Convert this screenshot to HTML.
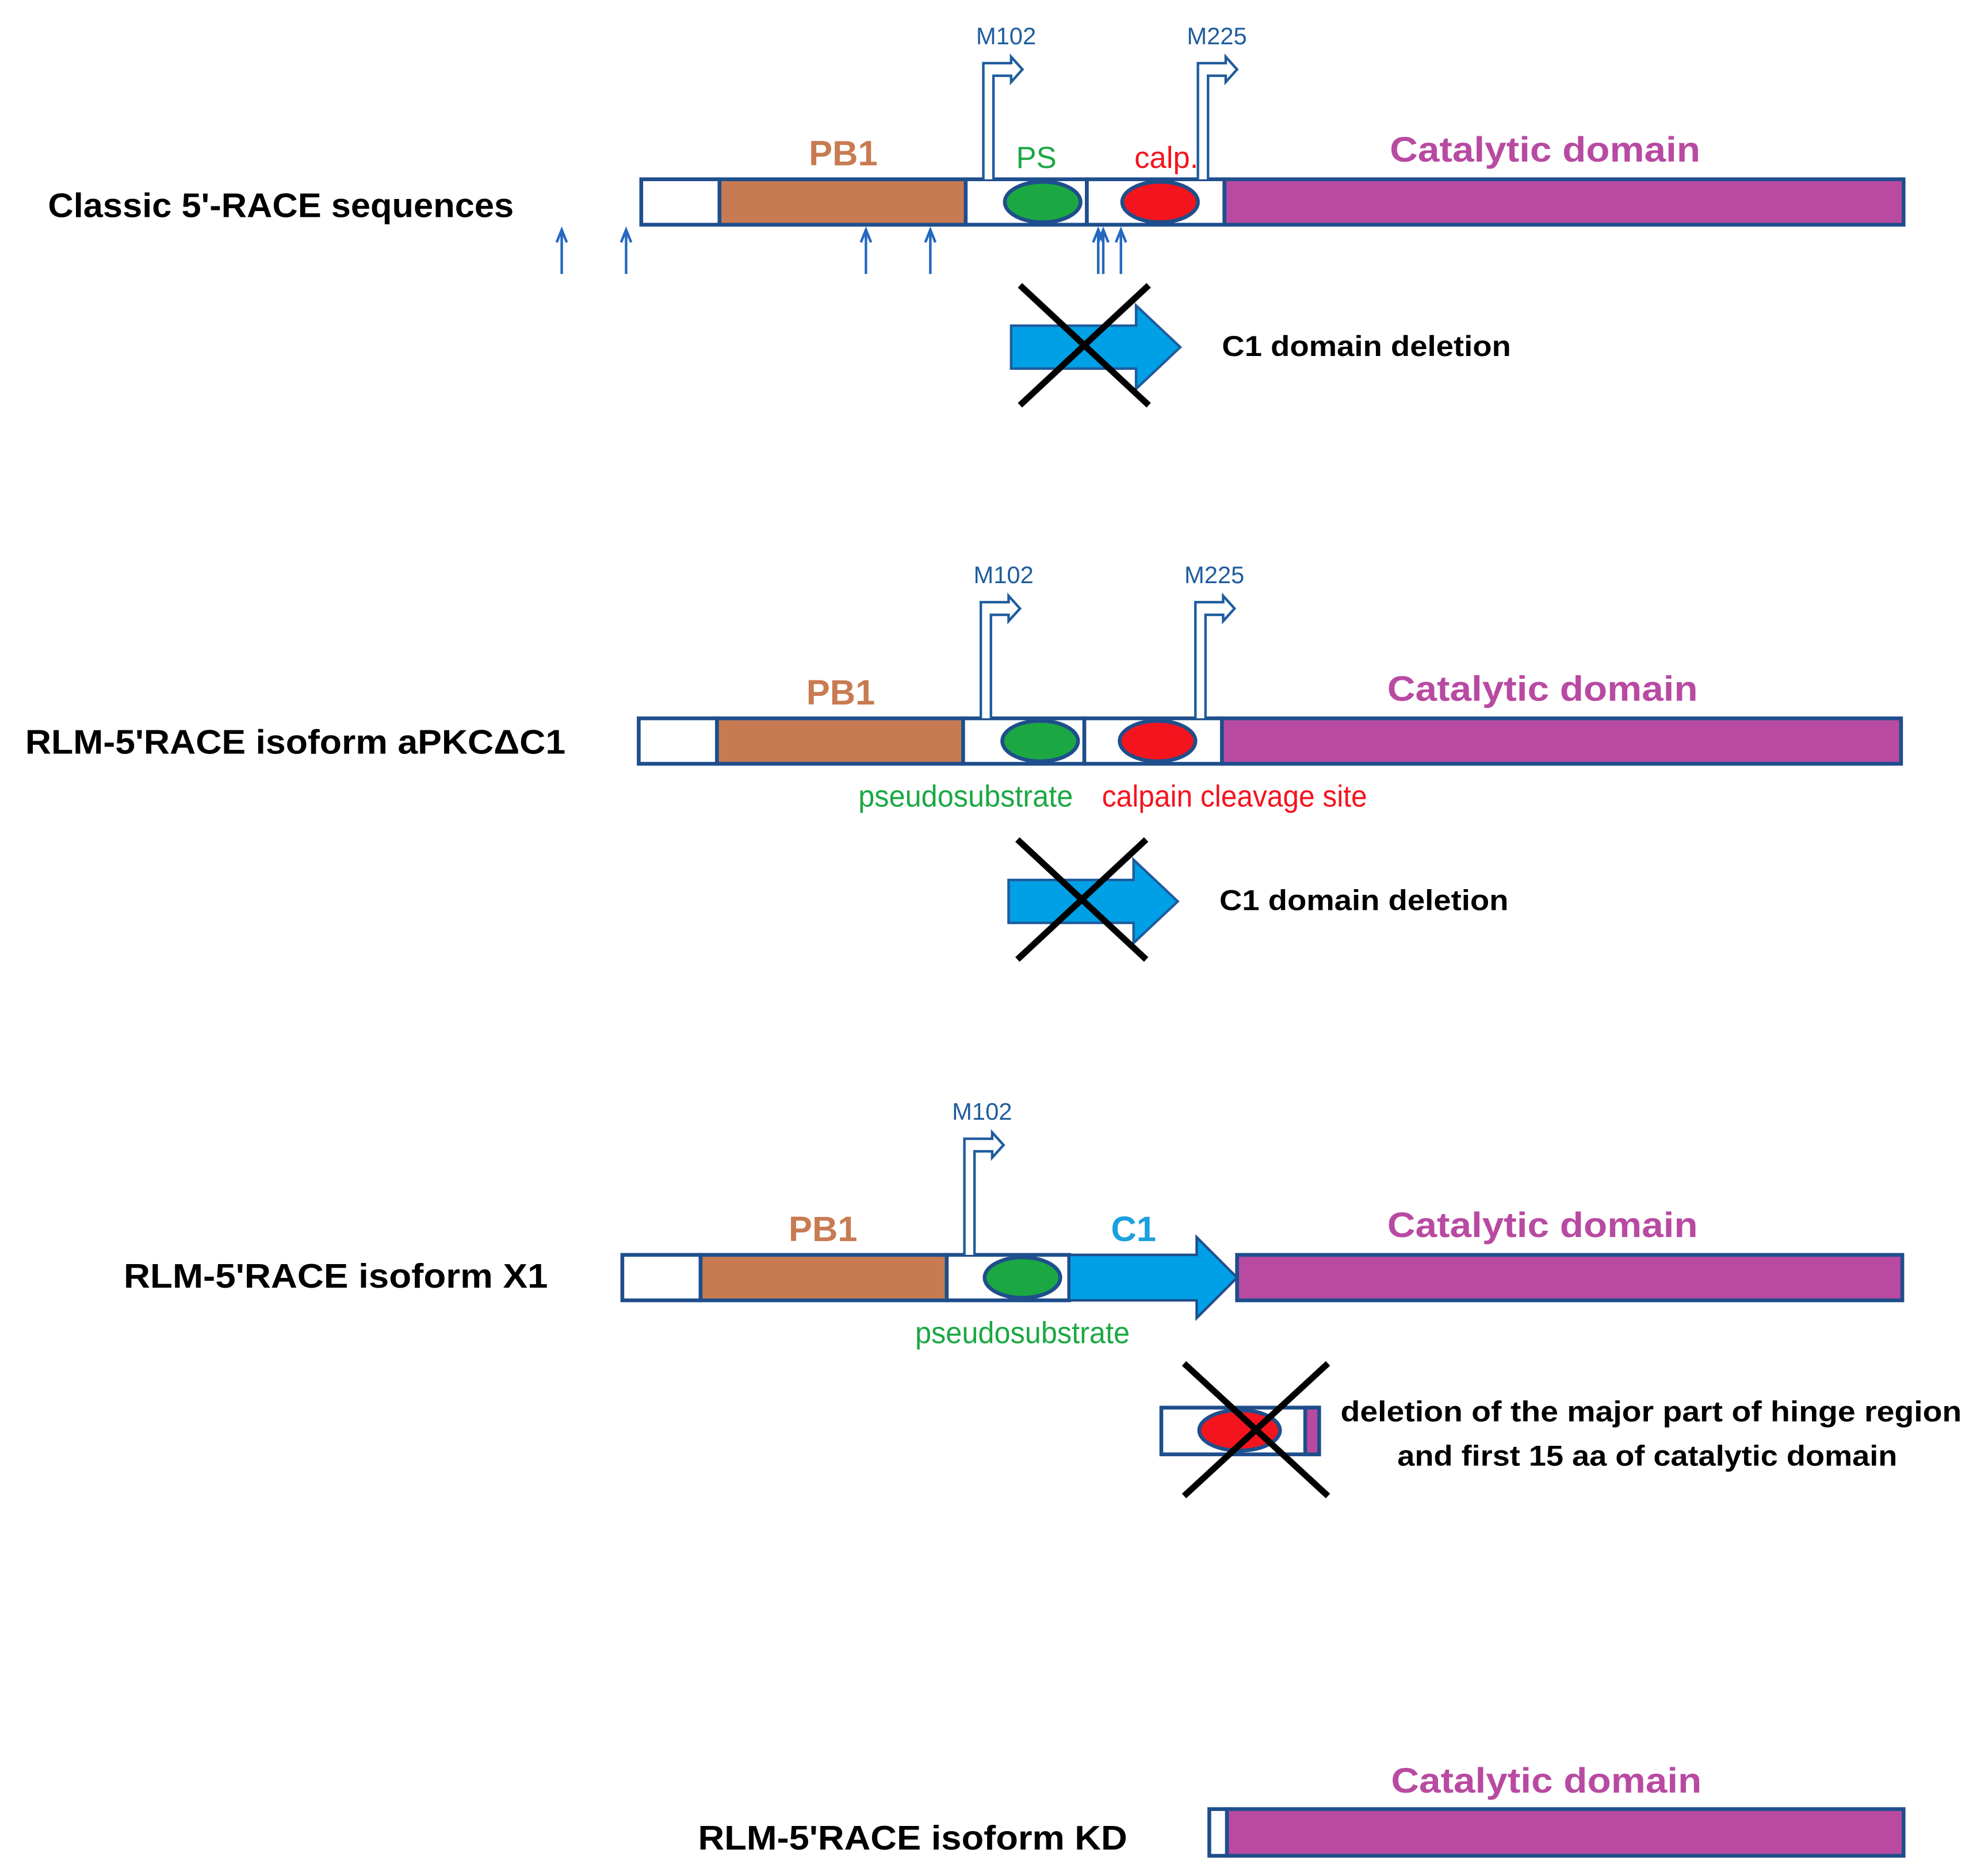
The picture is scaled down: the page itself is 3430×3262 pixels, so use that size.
<!DOCTYPE html>
<html><head><meta charset="utf-8"><style>html,body{margin:0;padding:0;background:#fff}svg{display:block}</style></head>
<body>
<svg width="3430" height="3262" viewBox="0 0 1563 1486" preserveAspectRatio="none" xmlns="http://www.w3.org/2000/svg" font-family="Liberation Sans, sans-serif">
<defs>
<g id="bent">
  <path d="M0,0 L0,-92 L22,-92 L22,-97 L31,-87 L22,-77 L22,-82 L8,-82 L8,0" fill="#fff" stroke="#1F5C9E" stroke-width="2"/>
</g>
<g id="up">
  <line x1="0" y1="35" x2="0" y2="2" stroke="#2468C0" stroke-width="2"/>
  <path d="M-4,10 L0,0 L4,10" fill="none" stroke="#2468C0" stroke-width="2"/>
</g>
<g id="c1x">
  <path d="M0,14 L99,14 L99,-2 L134,31 L99,64 L99,48 L0,48 Z" fill="#00A0E6" stroke="#1F5C9E" stroke-width="2"/>
  <line x1="7" y1="-18" x2="109" y2="77" stroke="#000" stroke-width="5"/>
  <line x1="109" y1="-18" x2="7" y2="77" stroke="#000" stroke-width="5"/>
</g>
</defs>
<g stroke="#1F4E8C" stroke-width="3">
<!-- Row 1 -->
<rect x="508" y="142" width="62" height="36" fill="#fff"/>
<rect x="570" y="142" width="195" height="36" fill="#C87B52"/>
<rect x="765" y="142" width="96" height="36" fill="#fff"/>
<rect x="861" y="142" width="109" height="36" fill="#fff"/>
<rect x="970" y="142" width="538" height="36" fill="#B84AA2"/>
<ellipse cx="826" cy="160" rx="30" ry="16" fill="#1BA843"/>
<ellipse cx="919" cy="160" rx="30" ry="16" fill="#F4141E"/>
<!-- Row 2 -->
<rect x="506" y="569" width="62" height="36" fill="#fff"/>
<rect x="568" y="569" width="195" height="36" fill="#C87B52"/>
<rect x="763" y="569" width="96" height="36" fill="#fff"/>
<rect x="859" y="569" width="109" height="36" fill="#fff"/>
<rect x="968" y="569" width="538" height="36" fill="#B84AA2"/>
<ellipse cx="824" cy="587" rx="30" ry="16" fill="#1BA843"/>
<ellipse cx="917" cy="587" rx="30" ry="16" fill="#F4141E"/>
<!-- Row 3 -->
<rect x="493" y="994" width="62" height="36" fill="#fff"/>
<rect x="555" y="994" width="195" height="36" fill="#C87B52"/>
<rect x="750" y="994" width="97" height="36" fill="#fff"/>
<rect x="980" y="994" width="527" height="36" fill="#B84AA2"/>
<ellipse cx="810" cy="1012" rx="30" ry="16" fill="#1BA843"/>
<path d="M847,994 L948,994 L948,980 L980,1012 L948,1044 L948,1030 L847,1030 Z" fill="#00A0E6" stroke-width="2"/>
<!-- small deletion box -->
<rect x="920" y="1115" width="125" height="37" fill="#fff"/>
<rect x="1034" y="1115" width="11" height="37" fill="#B84AA2"/>
<ellipse cx="982" cy="1133" rx="32" ry="16" fill="#F4141E"/>
<!-- Row 4 -->
<rect x="958" y="1433" width="14" height="37" fill="#fff"/>
<rect x="972" y="1433" width="536" height="37" fill="#B84AA2"/>
</g>
<line x1="938" y1="1080" x2="1052" y2="1185" stroke="#000" stroke-width="5"/>
<line x1="1052" y1="1080" x2="938" y2="1185" stroke="#000" stroke-width="5"/>

<use href="#bent" x="779" y="142"/>
<use href="#bent" x="949" y="142"/>
<use href="#bent" x="777" y="569"/>
<use href="#bent" x="947" y="569"/>
<use href="#bent" x="764" y="994"/>

<use href="#up" x="445" y="182"/>
<use href="#up" x="496" y="182"/>
<use href="#up" x="686" y="182"/>
<use href="#up" x="737" y="182"/>
<use href="#up" x="870" y="182"/>
<use href="#up" x="874" y="182"/>
<use href="#up" x="888" y="182"/>

<use href="#c1x" x="801" y="244"/>
<use href="#c1x" x="799" y="683"/>

<g font-size="19" fill="#1F5C9E" text-anchor="middle">
<text x="797" y="35">M102</text><text x="964" y="35">M225</text>
<text x="795" y="462">M102</text><text x="962" y="462">M225</text>
<text x="778" y="887">M102</text>
</g>
<g font-weight="bold" font-size="28" text-anchor="middle">
<text x="668" y="131" fill="#C87B52">PB1</text>
<text x="666" y="558" fill="#C87B52">PB1</text>
<text x="652" y="983" fill="#C87B52">PB1</text>
<text x="898" y="983" fill="#1BA0E0">C1</text>
<text x="1224" y="128" fill="#B84AA2" textLength="246" lengthAdjust="spacingAndGlyphs">Catalytic domain</text>
<text x="1222" y="555" fill="#B84AA2" textLength="246" lengthAdjust="spacingAndGlyphs">Catalytic domain</text>
<text x="1222" y="980" fill="#B84AA2" textLength="246" lengthAdjust="spacingAndGlyphs">Catalytic domain</text>
<text x="1225" y="1420" fill="#B84AA2" textLength="246" lengthAdjust="spacingAndGlyphs">Catalytic domain</text>
</g>
<g font-size="24" text-anchor="middle">
<text x="821" y="133" fill="#1BA843">PS</text>
<text x="924" y="133" fill="#F4141E">calp.</text>
<text x="765" y="639" fill="#1BA843" textLength="170" lengthAdjust="spacingAndGlyphs">pseudosubstrate</text>
<text x="978" y="639" fill="#F4141E" textLength="210" lengthAdjust="spacingAndGlyphs">calpain cleavage site</text>
<text x="810" y="1064" fill="#1BA843" textLength="170" lengthAdjust="spacingAndGlyphs">pseudosubstrate</text>
</g>
<g font-weight="bold" font-size="27" fill="#000">
<text x="38" y="172" textLength="369" lengthAdjust="spacingAndGlyphs">Classic 5'-RACE sequences</text>
<text x="20" y="597" textLength="428" lengthAdjust="spacingAndGlyphs">RLM-5'RACE isoform aPKCΔC1</text>
<text x="98" y="1020" textLength="336" lengthAdjust="spacingAndGlyphs">RLM-5'RACE isoform X1</text>
<text x="553" y="1465" textLength="340" lengthAdjust="spacingAndGlyphs">RLM-5'RACE isoform KD</text>
</g>
<g font-weight="bold" font-size="23" fill="#000">
<text x="968" y="282" textLength="229" lengthAdjust="spacingAndGlyphs">C1 domain deletion</text>
<text x="966" y="721" textLength="229" lengthAdjust="spacingAndGlyphs">C1 domain deletion</text>
<text x="1308" y="1126" text-anchor="middle" textLength="492" lengthAdjust="spacingAndGlyphs">deletion of the major part of hinge region</text>
<text x="1305" y="1161" text-anchor="middle" textLength="396" lengthAdjust="spacingAndGlyphs">and first 15 aa of catalytic domain</text>
</g>
</svg>
</body></html>
